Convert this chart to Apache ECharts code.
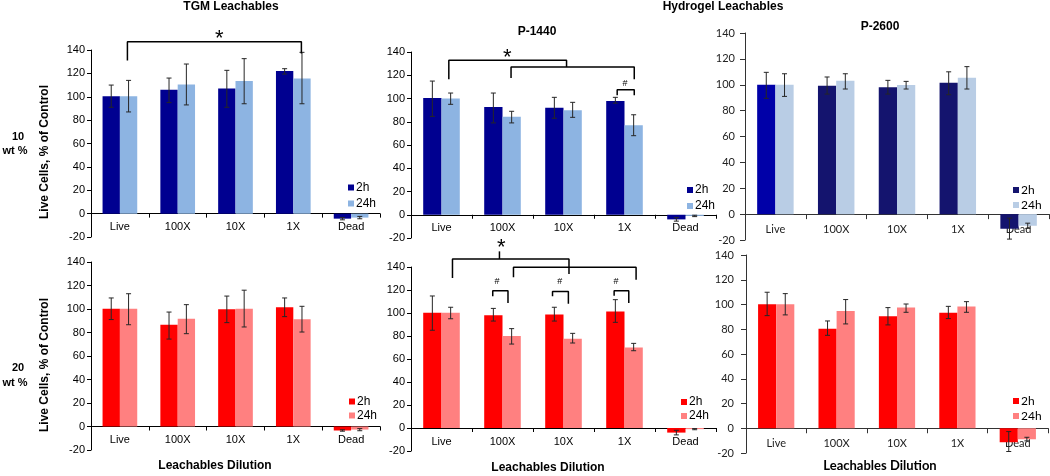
<!DOCTYPE html>
<html><head><meta charset="utf-8">
<script src="https://cdn.jsdelivr.net/npm/echarts@6/dist/echarts.min.js"></script>
<style>html,body{margin:0;padding:0;background:#fff}#c{width:1050px;height:476px}</style>
</head><body><div id="c"></div>
<script>
// ---------- data ----------
const categories = ['Live', '100X', '10X', '1X', 'Dead'];
const seriesNames = ['2h', '24h'];
const yMin = -20, yMax = 140, yStep = 20;

// TGM leachables, 10 wt %
const tgm10_2h     = [100.5, 106, 107, 122, -4.3];
const tgm10_2h_lo  = [91, 95, 91, 119.4, -5.3];
const tgm10_2h_hi  = [110, 116, 122.6, 124, -3.4];
const tgm10_24h    = [100.5, 110.5, 113.4, 115.7, -3.4];
const tgm10_24h_lo = [87, 93, 94, 94, -4.4];
const tgm10_24h_hi = [114, 128, 132.6, 138, -2.4];

// P-1440, 10 wt %
const p1440_10_2h     = [100.4, 92.7, 92, 97.8, -4];
const p1440_10_2h_lo  = [84.6, 79, 83, 96, -5.5];
const p1440_10_2h_hi  = [115, 104.7, 101, 101, -2.5];
const p1440_10_24h    = [100, 84.3, 90, 76.9, -1];
const p1440_10_24h_lo = [95, 79, 83.8, 68, -1.6];
const p1440_10_24h_hi = [104.7, 89, 96.7, 86, -0.4];

// P-2600, 10 wt %
const p2600_10_2h     = [100, 99.2, 98, 101.6, -11.3];
const p2600_10_2h_lo  = [89.5, 92.8, 92.8, 92.3, -19.3];
const p2600_10_2h_hi  = [109.6, 106, 103.4, 110, -3.1];
const p2600_10_24h    = [100, 103, 99.8, 105.4, -9];
const p2600_10_24h_lo = [91, 96.7, 96.7, 96.7, -11];
const p2600_10_24h_hi = [108.5, 108.5, 102.6, 114, -7];

// TGM leachables, 20 wt %
const tgm20_2h     = [100.3, 86.6, 99.7, 101.4, -3.4];
const tgm20_2h_lo  = [91, 74.4, 88.4, 93.5, -4];
const tgm20_2h_hi  = [109.4, 97.4, 111, 109.4, -2.8];
const tgm20_24h    = [100.3, 91.8, 100.3, 91.2, -2.6];
const tgm20_24h_lo = [86.6, 79, 84.7, 80.4, -3.6];
const tgm20_24h_hi = [113, 103.7, 116, 102.3, -1.8];

// P-1440, 20 wt %
const p1440_20_2h     = [100.3, 98, 98.6, 101.4, -4];
const p1440_20_2h_lo  = [85, 93, 93, 91.9, -6];
const p1440_20_2h_hi  = [114.8, 104, 105, 111.6, -2];
const p1440_20_24h    = [100.3, 80, 77.7, 70, -1];
const p1440_20_24h_lo = [95, 73, 73.9, 67.2, -1.5];
const p1440_20_24h_hi = [105, 86.4, 82.3, 73.6, -0.5];

// P-2600, 20 wt %
const p2600_20_2h     = [100.2, 80.5, 90.5, 93.4, -11.3];
const p2600_20_2h_lo  = [91, 75.1, 83.5, 88.6, -18.8];
const p2600_20_2h_hi  = [109.9, 86.7, 97.5, 98.5, -2.7];
const p2600_20_24h    = [100.2, 94.8, 97.5, 98.3, -8.9];
const p2600_20_24h_lo = [91.6, 84.3, 93.7, 93.7, -10.2];
const p2600_20_24h_hi = [108.8, 104, 100.4, 102.3, -7.3];

// significance brackets: polylines in (category position, value)
const tgm10Brackets = [
  [[0.13, 131], [0.13, 147], [3.14, 147], [3.14, 137]]
];
const tgm10Marks = [['*', 1.72, 154]];

const p1440_10Brackets = [
  [[0.12, 116.5], [0.12, 132.8], [2.05, 132.8], [2.05, 127]],
  [[1.14, 117.6], [1.14, 127], [3.16, 127], [3.16, 116.5]],
  [[2.88, 102.7], [2.88, 107.6], [3.16, 107.6], [3.16, 102.7]]
];
const p1440_10Marks = [['*', 1.08, 139.5], ['#', 3.01, 112.7]];

const p1440_20Brackets = [
  [[0.18, 130.4], [0.18, 147], [2.09, 147], [2.09, 134]],
  [[0.95, 147], [0.95, 153.6]],
  [[1.18, 131], [1.18, 139.7], [3.19, 139.7], [3.19, 129]],
  [[0.84, 114.5], [0.84, 119.4], [1.09, 119.4], [1.09, 108.7]],
  [[1.82, 114.5], [1.82, 118.8], [2.08, 118.8], [2.08, 108]],
  [[2.83, 115], [2.83, 119.4], [3.07, 119.4], [3.07, 108.7]]
];
const p1440_20Marks = [['*', 0.98, 161], ['#', 0.91, 127.5], ['#', 1.94, 127.5], ['#', 2.86, 127.5]];

// ---------- layout / style ----------
const ARIAL = '"Liberation Sans", Arial, sans-serif';
const CALI = 'Lato, "Open Sans", sans-serif';
const BLUE2 = '#000090', BLUE24 = '#8DB4E2';
const NAVY2 = '#14146E', NAVY2_LIVE = '#0000A8', BLUE24_L = '#B9CDE5';
const RED2 = '#FF0000', RED24 = '#FF8080';

const panels = [
  { grid: {left: 91, top: 50, width: 289, height: 187},
    v: [tgm10_2h, tgm10_24h], lo: [tgm10_2h_lo, tgm10_24h_lo], hi: [tgm10_2h_hi, tgm10_24h_hi],
    colors: [BLUE2, BLUE24], font: ARIAL, lblMargin: 8, yLblMargin: 6, tick: 4, axisColor: '#000',
    brackets: tgm10Brackets, marks: tgm10Marks, legend: {left: 348, top: 181.5, itemGap: 4} },
  { grid: {left: 411, top: 52, width: 305, height: 186},
    v: [p1440_10_2h, p1440_10_24h], lo: [p1440_10_2h_lo, p1440_10_24h_lo], hi: [p1440_10_2h_hi, p1440_10_24h_hi],
    colors: [BLUE2, BLUE24], font: ARIAL, lblMargin: 8, yLblMargin: 6, tick: 4, axisColor: '#000',
    brackets: p1440_10Brackets, marks: p1440_10Marks, legend: {left: 687, top: 184, itemGap: 4} },
  { grid: {left: 745, top: 33, width: 304, height: 207},
    v: [p2600_10_2h, p2600_10_24h], lo: [p2600_10_2h_lo, p2600_10_24h_lo], hi: [p2600_10_2h_hi, p2600_10_24h_hi],
    colors: [NAVY2, BLUE24_L], firstColor: NAVY2_LIVE, font: CALI, lblMargin: 10, yLblMargin: 10, tick: 5, axisColor: '#333',
    brackets: [], marks: [], legend: {left: 1013, top: 184, itemGap: 3} },
  { grid: {left: 91, top: 262, width: 289, height: 188},
    v: [tgm20_2h, tgm20_24h], lo: [tgm20_2h_lo, tgm20_24h_lo], hi: [tgm20_2h_hi, tgm20_24h_hi],
    colors: [RED2, RED24], font: ARIAL, lblMargin: 8, yLblMargin: 6, tick: 4, axisColor: '#000',
    brackets: [], marks: [], legend: {left: 349, top: 395.5, itemGap: 2} },
  { grid: {left: 411, top: 267, width: 305, height: 184},
    v: [p1440_20_2h, p1440_20_24h], lo: [p1440_20_2h_lo, p1440_20_24h_lo], hi: [p1440_20_2h_hi, p1440_20_24h_hi],
    colors: [RED2, RED24], font: ARIAL, lblMargin: 8, yLblMargin: 6, tick: 4, axisColor: '#000',
    brackets: p1440_20Brackets, marks: p1440_20Marks, legend: {left: 681, top: 396, itemGap: 2} },
  { grid: {left: 746, top: 255, width: 302, height: 198},
    v: [p2600_20_2h, p2600_20_24h], lo: [p2600_20_2h_lo, p2600_20_24h_lo], hi: [p2600_20_2h_hi, p2600_20_24h_hi],
    colors: [RED2, RED24], font: CALI, lblMargin: 10, yLblMargin: 12, tick: 5, axisColor: '#333',
    brackets: [], marks: [], legend: {left: 1013, top: 395, itemGap: 3} }
];

const BAR_FRAC = 0.30; // each bar is 30% of the category band

const grids = [], xAxes = [], yAxes = [], series = [], legends = [];

panels.forEach((p, k) => {
  grids.push(Object.assign({containLabel: false}, p.grid));
  // labels sit under the zero line, which is above the grid bottom
  const zeroFromBottom = p.grid.height * (0 - yMin) / (yMax - yMin);
  xAxes.push({
    type: 'category', gridIndex: k, data: categories, position: 'bottom',
    axisLine: {onZero: true, lineStyle: {color: p.axisColor, width: 1}},
    axisTick: {show: true, length: p.tick, lineStyle: {color: p.axisColor}},
    axisLabel: {margin: p.lblMargin - zeroFromBottom, fontSize: 11,
      color: p.font === CALI ? '#222' : '#000', fontFamily: p.font, interval: 0},
    splitLine: {show: false}
  });
  xAxes.push({
    type: 'value', gridIndex: k, min: -0.5, max: categories.length - 0.5, show: false, position: 'top'
  });
  yAxes.push({
    type: 'value', gridIndex: k, min: yMin, max: yMax, interval: yStep,
    axisLine: {show: true, onZero: false, lineStyle: {color: p.axisColor, width: 1}},
    axisTick: {show: true, length: p.tick, lineStyle: {color: p.axisColor}},
    axisLabel: {margin: p.yLblMargin, fontSize: 11, color: p.font === CALI ? '#222' : '#000', fontFamily: p.font},
    splitLine: {show: false}
  });
  const cx = 2 * k, vx = 2 * k + 1;
  // bars
  [0, 1].forEach(s => {
    series.push({
      type: 'bar', name: seriesNames[s], xAxisIndex: cx, yAxisIndex: k,
      barWidth: (BAR_FRAC * 100) + '%', barGap: '0%',
      itemStyle: {color: p.colors[s]},
      data: p.v[s].map((val, i) => (s === 0 && i === 0 && p.firstColor)
        ? {value: val, itemStyle: {color: p.firstColor}} : val),
      silent: true
    });
  });
  // error bars
  [0, 1].forEach(s => {
    const off = (s === 0 ? -1 : 1) * BAR_FRAC / 2;
    series.push({
      type: 'custom', xAxisIndex: vx, yAxisIndex: k, silent: true, z: 3,
      data: p.v[s].map((_, i) => [i + off, p.lo[s][i], p.hi[s][i]]),
      encode: {x: 0, y: [1, 2]},
      renderItem: (params, api) => {
        const a = api.coord([api.value(0), api.value(2)]);
        const b = api.coord([api.value(0), api.value(1)]);
        const h = 2.5, st = {stroke: '#262626', lineWidth: 1};
        return {type: 'group', children: [
          {type: 'line', shape: {x1: a[0], y1: a[1], x2: b[0], y2: b[1]}, style: st},
          {type: 'line', shape: {x1: a[0] - h, y1: a[1], x2: a[0] + h, y2: a[1]}, style: st},
          {type: 'line', shape: {x1: b[0] - h, y1: b[1], x2: b[0] + h, y2: b[1]}, style: st}
        ]};
      }
    });
  });
  // brackets
  p.brackets.forEach(pts => {
    series.push({
      type: 'line', xAxisIndex: vx, yAxisIndex: k, data: pts, symbol: 'none', clip: false,
      silent: true, z: 4, lineStyle: {color: '#000', width: 1.5}
    });
  });
  if (p.marks.length) {
    series.push({
      type: 'custom', xAxisIndex: vx, yAxisIndex: k, silent: true, z: 5, clip: false,
      data: p.marks.map(m => [m[1], m[2]]),
      encode: {x: 0, y: 1},
      renderItem: (params, api) => {
        const m = p.marks[params.dataIndex];
        const c = api.coord([api.value(0), api.value(1)]);
        const star = m[0] === '*';
        return {type: 'text', x: c[0], y: c[1] + (star ? 5 : 0), style: {
          text: m[0], fill: '#000', align: 'center', verticalAlign: 'middle',
          font: (star ? '22px ' : '9px ') + ARIAL
        }};
      }
    });
  }
  legends.push({
    orient: 'vertical', left: p.legend.left, top: p.legend.top, itemGap: p.legend.itemGap,
    itemWidth: 6, itemHeight: 6, icon: 'rect', selectedMode: false, padding: 0,
    textStyle: {fontSize: 12, color: '#000', fontFamily: p.font, padding: [0, 0, 0, -3]},
    data: seriesNames.map((n, s) => ({name: n, itemStyle: {color: p.colors[s]}}))
  });
});

const txt = (t, x, y, font, rot) => ({
  type: 'text', x: x, y: y, rotation: rot || 0, silent: true,
  style: {text: t, font: font, fill: '#000', align: 'center', verticalAlign: 'middle'}
});
const B12 = 'bold 12px ' + ARIAL;
const B11 = 'bold 11px ' + ARIAL;
const graphics = [
  txt('TGM Leachables', 231, 7, B12),
  txt('Hydrogel Leachables', 723, 7, B12),
  txt('P-1440', 537, 32, B12),
  txt('P-2600', 880, 27, B12),
  txt('10', 18, 137, B11), txt('wt %', 15, 151, B11),
  txt('20', 18, 368, B11), txt('wt %', 15, 383, B11),
  txt('Live Cells, % of Control', 45, 152, B12, Math.PI / 2),
  txt('Live Cells, % of Control', 45, 365, B12, Math.PI / 2),
  txt('Leachables Dilution', 215, 466, B12),
  txt('Leachables Dilution', 548, 468, B12),
  txt('Leachables Dilution', 880, 466, 'bold 13px ' + CALI)
];

const chart = echarts.init(document.getElementById('c'), null, {renderer: 'canvas'});
chart.setOption({
  animation: false,
  backgroundColor: '#fff',
  grid: grids, xAxis: xAxes, yAxis: yAxes, series: series, legend: legends,
  graphic: graphics
});
</script></body></html>
